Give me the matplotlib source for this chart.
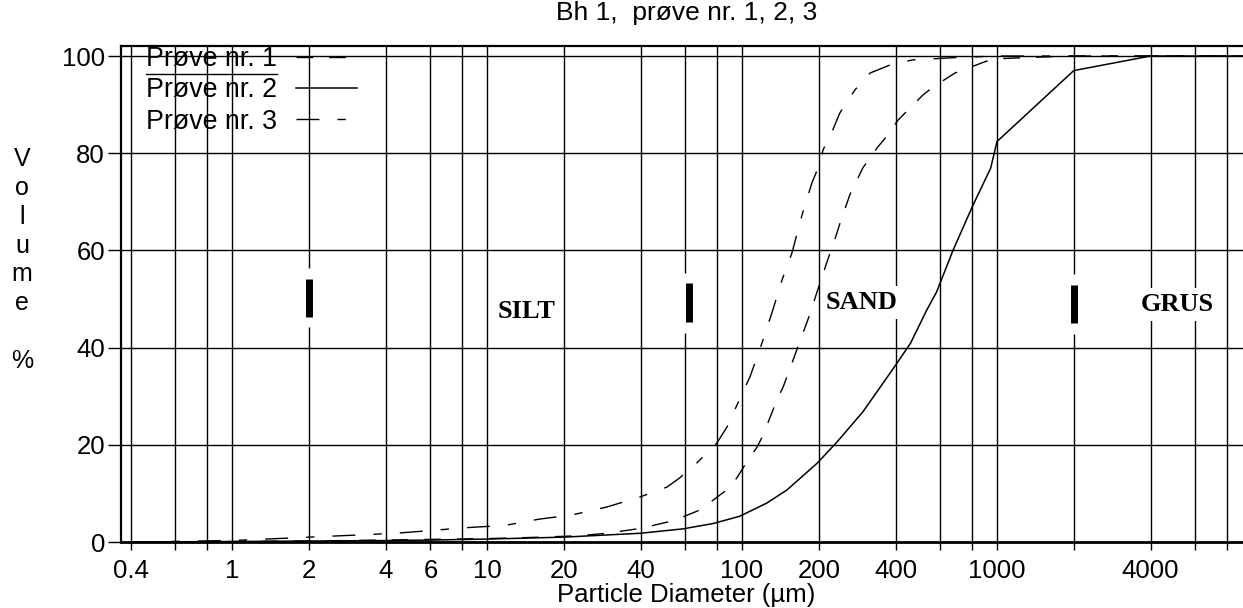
"""Particle size distribution, Bh 1, prøve nr. 1, 2, 3 (log x axis)."""

import matplotlib
matplotlib.use('Agg')
import matplotlib.pyplot as plt
from matplotlib.lines import Line2D
from matplotlib.ticker import NullLocator

plt.rcParams['font.family'] = ['Liberation Sans', 'DejaVu Sans']
plt.rcParams['lines.scale_dashes'] = False

# cumulative volume % vs particle diameter (µm)
d1 = [0.4, 1, 2, 4, 10, 16.6, 23, 29.5, 40, 52, 57, 68.5, 87, 95.5, 104.5,
      114.5, 121, 137, 145, 158.5, 172, 185, 197, 215, 232, 242, 265, 298,
      341, 370, 409, 448, 513, 561, 684, 736, 873, 965, 1500, 2000, 10000]
p1 = [0, 0.1, 0.2, 0.4, 0.7, 1.0, 1.3, 1.8, 2.8, 4.2, 4.9, 6.6, 10.7, 13.2,
      16.5, 19.5, 22, 29.2, 31.9, 37.4, 42.5, 47, 51.5, 57.5, 62.5, 65.5,
      71.5, 77, 81.3, 83.5, 86.8, 88.9, 92, 93.6, 96.5, 97.1, 98.6, 99.4,
      99.8, 100, 100]

d2 = [0.4, 1, 2, 4, 6, 10, 20, 40, 58.6, 77, 98, 125, 150, 197, 236, 298,
      392, 458, 530, 580, 672, 800, 944, 1000, 2000, 4000, 10000]
p2 = [0, 0.1, 0.2, 0.3, 0.4, 0.6, 1.0, 1.8, 2.7, 3.8, 5.3, 8, 10.7, 16.2,
      20.6, 26.8, 35.7, 40.9, 47.7, 51.5, 60, 69, 76.9, 82.4, 97, 100, 100]

d3 = [0.4, 1, 1.5, 2, 3, 4.4, 6.5, 8, 10, 12, 16, 21.7, 29.5, 40, 50.8, 57,
      66.6, 79.8, 87.4, 95.6, 107.5, 119.7, 132, 143.5, 157, 172, 188, 199,
      208, 227, 242, 277, 318, 391, 468, 700, 1000, 10000]
p3 = [0, 0.3, 0.7, 1.0, 1.4, 1.8, 2.5, 2.9, 3.2, 3.5, 4.7, 5.6, 7.2, 9.3,
      11.3, 13.2, 16.3, 20.4, 23.7, 28.2, 34, 40.9, 47.7, 53.9, 59.5, 67.3,
      73.9, 77, 80.7, 84.8, 88.3, 93, 96.5, 98.4, 99.2, 99.7, 100, 100]

labels = ['Prøve nr. 1', 'Prøve nr. 2', 'Prøve nr. 3']

grid_x = [0.4, 0.6, 0.8, 1, 2, 4, 6, 8, 10, 20, 40, 60, 80, 100, 200, 400,
          600, 800, 1000, 2000, 4000, 6000, 8000]
labeled_x = [0.4, 1, 2, 4, 6, 10, 20, 40, 100, 200, 400, 1000, 4000]
grid_y = [0, 20, 40, 60, 80, 100]

# soil class boundaries (µm) with marker span (vol %)
bound_x = [2, 62, 2000]
bound_lo = [46.4, 45.3, 45.0]
bound_hi = [54.2, 53.2, 52.9]

classes = ['SILT', 'SAND', 'GRUS']
class_x = [14.3, 295, 5080]
class_y = [47.5, 49.3, 48.9]

W, H = 1243, 608
fig = plt.figure(figsize=(W / 100, H / 100), dpi=100, facecolor='white')
ax = fig.add_axes([121 / W, 66 / H, 1131 / W, 496 / H])
ax.set_xscale('log')
ax.set_xlim(0.367, 10000)
ax.set_ylim(0, 102.06)

ax.plot(d1, p1, color='black', lw=1.0, dashes=(12, 11.5), label=labels[0])
ax.plot(d2, p2, color='black', lw=1.1, label=labels[1])
ax.plot(d3, p3, color='black', lw=1.0, dashes=(16.5, 13, 6, 13),
        label=labels[2])

ax.set_xticks(grid_x)
ax.set_xticklabels([f'{v:g}' if v in labeled_x else '' for v in grid_x])
ax.xaxis.set_minor_locator(NullLocator())
ax.set_yticks(grid_y)
ax.grid(True, which='major', color='black', lw=1.0)
ax.tick_params(axis='x', direction='out', length=6, width=1.0, pad=6,
               labelsize=18.5)
ax.tick_params(axis='y', direction='out', length=9.5, width=1.0, pad=2,
               labelsize=18.5)

for side in ['top', 'left']:
    ax.spines[side].set_linewidth(1.6)
ax.spines['bottom'].set_linewidth(2.0)
ax.spines['right'].set_visible(False)

for x, lo, hi in zip(bound_x, bound_lo, bound_hi):
    ax.plot([x, x], [lo - 2.2, hi + 2.2], color='white', lw=12,
            solid_capstyle='butt', zorder=3)
    ax.plot([x, x], [lo, hi], color='black', lw=5,
            solid_capstyle='butt', zorder=4)

for name, x, y in zip(classes, class_x, class_y):
    ax.text(x, y, name, family='Liberation Serif', weight='bold',
            fontsize=19, ha='center', va='center', zorder=4,
            bbox=dict(boxstyle='square,pad=0.2', fc='white', ec='none'))

ax.set_title('Bh 1,  prøve nr. 1, 2, 3', fontsize=19, pad=18.5)
ax.set_xlabel('Particle Diameter (µm)', fontsize=18.5, labelpad=0)

fig.text(22 / W, 1 - 260 / H, 'V\no\nl\nu\nm\ne\n\n%', ha='center',
         va='center', fontsize=18, linespacing=1.26)

leg = ax.legend(loc='upper left', bbox_to_anchor=(146 / W, 1 - 46 / H),
                bbox_transform=fig.transFigure, frameon=False,
                markerfirst=False, fontsize=19.3, handlelength=2.3,
                handletextpad=0.7, labelspacing=0.2, borderpad=0,
                borderaxespad=0)

# rule under the first legend entry
fig.canvas.draw()
bb = leg.get_texts()[0].get_window_extent()
fig.add_artist(Line2D([bb.x0, bb.x1], [bb.y0 - 2, bb.y0 - 2],
                      color='black', lw=1.0, transform=None))

fig.savefig('out.png', dpi=100, facecolor='white')
